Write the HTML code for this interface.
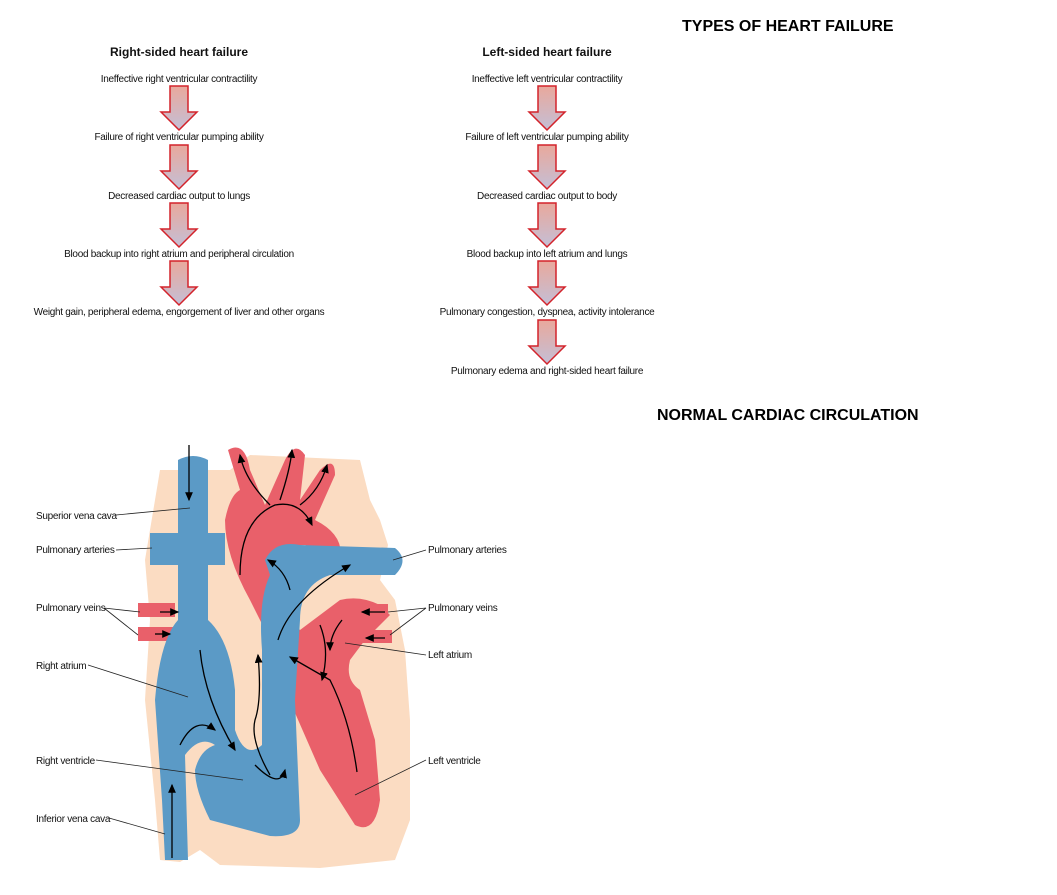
<!DOCTYPE html>
<html><head><meta charset="utf-8"><style>
body{margin:0;background:#fff;}
svg{display:block;font-family:"Liberation Sans",Arial,sans-serif;}
.s{font-size:10px;fill:#111;letter-spacing:-0.3px}
.h{font-size:12px;font-weight:bold;fill:#111}
.t{font-size:16px;font-weight:bold;fill:#000;letter-spacing:0px}
</style></head><body>
<svg width="1057" height="895" viewBox="0 0 1057 895">
<defs>
<linearGradient id="ag" x1="0" y1="0" x2="0" y2="1"><stop offset="0" stop-color="#e9a89c"/><stop offset="1" stop-color="#c4bfd6"/></linearGradient>
<g id="arr"><path d="M-9,0 H9 V26 H18 L0,44 L-18,26 H-9 Z" fill="url(#ag)" stroke="#d3232b" stroke-width="1.5"/></g>
<marker id="m" markerWidth="8" markerHeight="8" refX="6" refY="3" orient="auto"><path d="M0,0 L7,3 L0,6 Z" fill="#000"/></marker>
</defs>
<text class="t" x="682" y="31">TYPES OF HEART FAILURE</text>
<text class="t" x="657" y="420">NORMAL CARDIAC CIRCULATION</text>
<text class="h" x="179" y="56" text-anchor="middle">Right-sided heart failure</text>
<text class="h" x="547" y="56" text-anchor="middle">Left-sided heart failure</text>
<g class="s" text-anchor="middle">
<text x="179" y="82">Ineffective right ventricular contractility</text>
<text x="179" y="140">Failure of right ventricular pumping ability</text>
<text x="179" y="199">Decreased cardiac output to lungs</text>
<text x="179" y="257">Blood backup into right atrium and peripheral circulation</text>
<text x="179" y="315">Weight gain, peripheral edema, engorgement of liver and other organs</text>
<text x="547" y="82">Ineffective left ventricular contractility</text>
<text x="547" y="140">Failure of left ventricular pumping ability</text>
<text x="547" y="199">Decreased cardiac output to body</text>
<text x="547" y="257">Blood backup into left atrium and lungs</text>
<text x="547" y="315">Pulmonary congestion, dyspnea, activity intolerance</text>
<text x="547" y="374">Pulmonary edema and right-sided heart failure</text>
</g>
<use href="#arr" x="179" y="86"/><use href="#arr" x="179" y="145"/><use href="#arr" x="179" y="203"/><use href="#arr" x="179" y="261"/>
<use href="#arr" x="547" y="86"/><use href="#arr" x="547" y="145"/><use href="#arr" x="547" y="203"/><use href="#arr" x="547" y="261"/><use href="#arr" x="547" y="320"/>
<!-- heart -->
<path d="M172,470 H230 L250,455 L360,460 L370,500 L380,520 L388,545 L380,580 L395,600 L405,650 L410,720 L410,820 L395,860 L320,868 L220,865 L200,850 L180,862 L160,860 L155,800 L145,700 L150,620 L145,560 L160,470 Z" fill="#fbdcc2"/>
<path d="M228,450 Q245,440 250,470 L265,505 L285,460 Q295,440 305,455 L300,500 L320,470 Q335,455 335,475 L315,520 Q345,535 340,560 L305,545 Q280,545 275,580 Q280,610 300,630 L340,600 Q360,595 380,605 L390,615 L365,640 L350,660 Q345,680 360,690 L375,740 L380,800 Q375,835 355,825 L320,770 L285,690 L265,630 L250,600 Q225,555 225,520 Q230,495 240,490 Z" fill="#e9606a"/>
<path d="M138,603 H175 V617 H138 Z M138,627 H175 V641 H138 Z" fill="#e9606a"/>
<path d="M340,604 H388 V617 H340 Z M345,630 H392 V643 H345 Z" fill="#e9606a"/>
<path d="M178,460 Q193,452 208,460 V533 H225 V565 H208 V620 Q230,640 235,690 L235,730 Q245,760 262,745 L262,650 Q258,600 270,575 L265,560 Q275,540 300,545 L395,548 Q410,560 395,575 L330,575 Q300,585 300,620 L295,700 L300,820 Q300,838 270,836 L210,820 Q195,790 195,770 Q200,750 215,745 Q200,735 185,755 L188,860 H165 L162,800 L155,700 Q160,640 178,620 V565 H150 V533 H178 Z" fill="#5b9ac6"/>
<g fill="none" stroke="#000" stroke-width="1.3" marker-end="url(#m)">
<path d="M189,445 V500"/><path d="M172,858 V785"/>
<path d="M200,650 Q205,700 235,750"/><path d="M180,745 Q195,715 215,730"/>
<path d="M270,775 Q250,740 255,720 Q262,700 258,655"/>
<path d="M255,765 Q280,790 285,770"/>
<path d="M278,640 Q290,600 350,565"/><path d="M290,590 Q285,570 268,560"/>
<path d="M240,575 Q240,520 275,505 Q300,500 312,525"/>
<path d="M270,505 Q245,480 240,455"/><path d="M280,500 Q290,470 292,450"/><path d="M300,505 Q320,490 327,465"/>
<path d="M160,612 H178"/><path d="M155,634 H170"/><path d="M385,612 H362"/><path d="M385,638 H366"/>
<path d="M320,625 Q330,650 322,680"/><path d="M342,620 Q330,635 330,650"/>
<path d="M357,772 Q350,720 330,680 L290,657"/>
</g>
<g stroke="#222" stroke-width="0.8" fill="none">
<path d="M116,515 L190,508"/><path d="M116,550 L152,548"/>
<path d="M104,608 L140,612 M104,608 L138,635"/>
<path d="M88,665 L188,697"/><path d="M96,760 L243,780"/><path d="M109,818 L165,834"/>
<path d="M426,550 L393,560"/><path d="M426,608 L388,612 M426,608 L390,635"/>
<path d="M426,655 L345,643"/><path d="M426,760 L355,795"/>
</g>
<g class="s">
<text x="36" y="519">Superior vena cava</text>
<text x="36" y="553">Pulmonary arteries</text>
<text x="36" y="611">Pulmonary veins</text>
<text x="36" y="669">Right atrium</text>
<text x="36" y="764">Right ventricle</text>
<text x="36" y="822">Inferior vena cava</text>
<text x="428" y="553">Pulmonary arteries</text>
<text x="428" y="611">Pulmonary veins</text>
<text x="428" y="658">Left atrium</text>
<text x="428" y="764">Left ventricle</text>
</g>
</svg>
</body></html>
